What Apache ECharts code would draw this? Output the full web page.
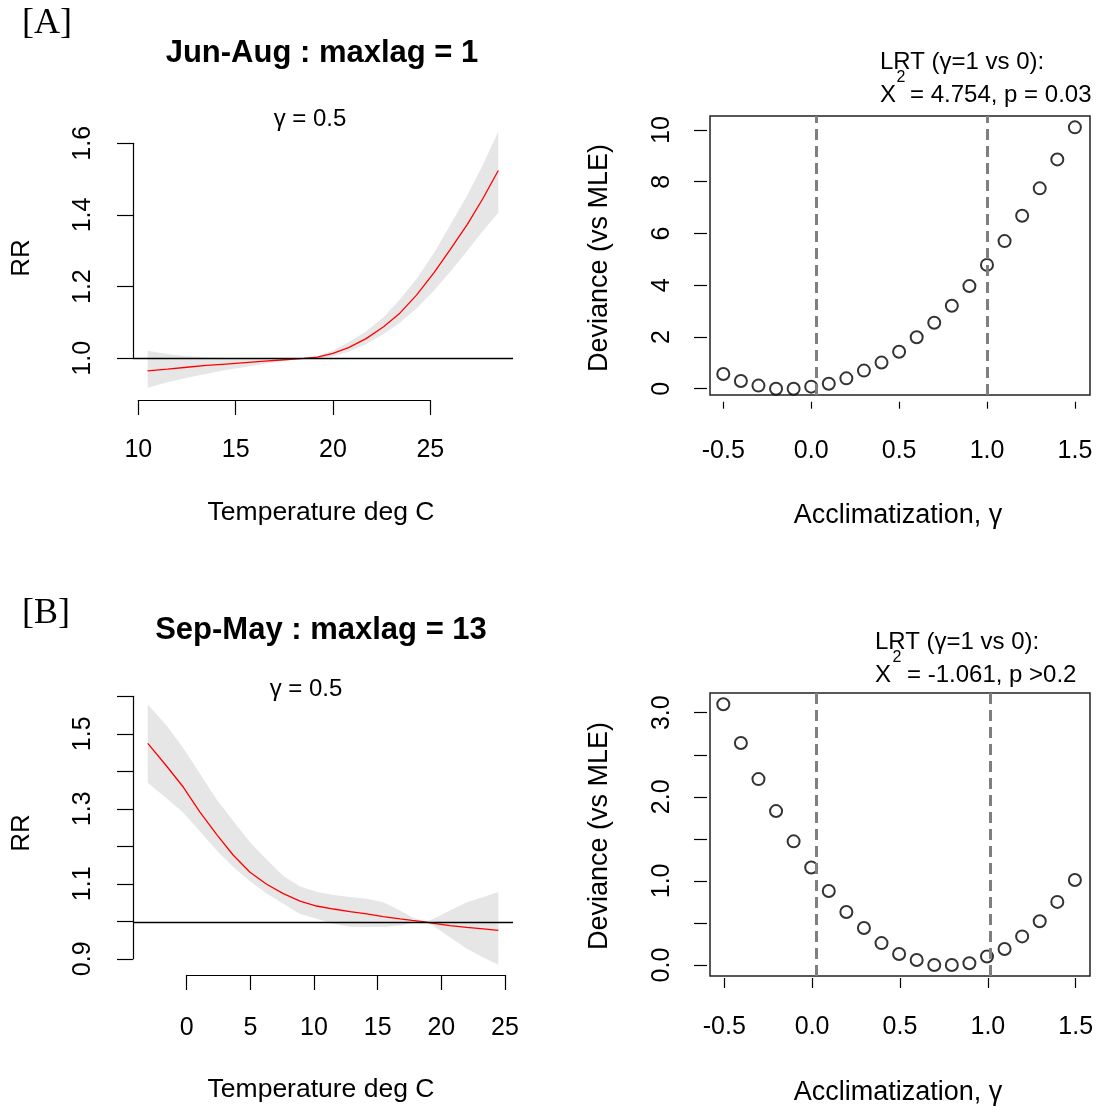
<!DOCTYPE html>
<html>
<head>
<meta charset="utf-8">
<script src="https://cdn.jsdelivr.net/npm/echarts@6/dist/echarts.min.js"></script>
<style>
  html, body { margin: 0; padding: 0; background: #fff; }
  #chart { width: 1096px; height: 1108px; }
</style>
</head>
<body>
<div id="chart"></div>
<script>
// ---- data ----
// [A] Jun-Aug : temperature -> RR curve and its confidence band
var tempA = [10.48, 11.5, 12.5, 13.5, 14.5, 15.5, 16.5, 17.5, 18.5, 19.2, 20.0, 20.8, 21.7, 22.6, 23.4, 24.3, 25.2, 26.0, 26.9, 27.7, 28.49];
var rrA   = [0.965, 0.970, 0.975, 0.980, 0.984, 0.988, 0.992, 0.996, 1.000, 1.003, 1.014, 1.030, 1.055, 1.088, 1.124, 1.177, 1.240, 1.302, 1.374, 1.446, 1.524];
var loA   = [0.918, 0.933, 0.946, 0.957, 0.967, 0.976, 0.985, 0.993, 1.000, 1.000, 1.006, 1.018, 1.040, 1.068, 1.098, 1.140, 1.190, 1.240, 1.300, 1.355, 1.406];
var hiA   = [1.021, 1.012, 1.006, 1.003, 1.001, 1.000, 1.000, 1.000, 1.000, 1.006, 1.022, 1.045, 1.075, 1.115, 1.162, 1.222, 1.295, 1.370, 1.455, 1.540, 1.633];

// [B] Sep-May
var tempB = [-3.06, -1.57, -0.26, 1.04, 2.36, 3.66, 4.97, 6.28, 7.59, 8.9, 10.2, 11.52, 12.83, 14.14, 15.44, 16.76, 17.7, 18.7, 19.4, 20.68, 22.0, 23.3, 24.48];
var rrB   = [1.475, 1.414, 1.358, 1.292, 1.232, 1.177, 1.132, 1.100, 1.075, 1.055, 1.042, 1.034, 1.027, 1.021, 1.014, 1.008, 1.004, 1.000, 0.996, 0.990, 0.985, 0.981, 0.977];
var loB   = [1.370, 1.328, 1.290, 1.240, 1.190, 1.146, 1.108, 1.075, 1.048, 1.021, 1.008, 0.995, 0.987, 0.986, 0.986, 0.990, 0.996, 1.000, 0.988, 0.959, 0.928, 0.905, 0.886];
var hiB   = [1.578, 1.522, 1.462, 1.394, 1.325, 1.268, 1.212, 1.166, 1.122, 1.094, 1.080, 1.071, 1.066, 1.061, 1.052, 1.030, 1.012, 1.000, 1.008, 1.030, 1.052, 1.066, 1.079];

// deviance profiles over acclimatization gamma
var gammaVals = [-0.5, -0.4, -0.3, -0.2, -0.1, 0.0, 0.1, 0.2, 0.3, 0.4, 0.5, 0.6, 0.7, 0.8, 0.9, 1.0, 1.1, 1.2, 1.3, 1.4, 1.5];
var devA = [0.57, 0.30, 0.12, 0.00, 0.00, 0.08, 0.19, 0.40, 0.70, 1.01, 1.43, 1.99, 2.55, 3.21, 3.97, 4.79, 5.71, 6.69, 7.75, 8.87, 10.11];
var devB = [3.10, 2.64, 2.21, 1.83, 1.47, 1.16, 0.88, 0.63, 0.44, 0.26, 0.13, 0.06, 0.00, 0.00, 0.02, 0.10, 0.19, 0.34, 0.52, 0.75, 1.01];

// dashed reference lines and the RR = 1 line
var refGammaA = [0.025, 1.0];
var refGammaB = [0.025, 1.02];
var refRR = 1;

// tick labels
var tempTicksA = [10, 15, 20, 25];
var tempTicksB = [0, 5, 10, 15, 20, 25];
var rrTicksA = [1.0, 1.2, 1.4, 1.6];
var rrTicksB = [0.9, 1.0, 1.1, 1.2, 1.3, 1.4, 1.5, 1.6];
var rrLabelsB = [0.9, 1.1, 1.3, 1.5];
var gammaTicks = [-0.5, 0.0, 0.5, 1.0, 1.5];
var devTicksA = [0, 2, 4, 6, 8, 10];
var devTicksB = [0.0, 0.5, 1.0, 1.5, 2.0, 2.5, 3.0];
var devLabelsB = [0.0, 1.0, 2.0, 3.0];

function pairs(xs, ys) {
  return xs.map(function (x, i) { return [x, ys[i]]; });
}
function inList(list, v) {
  return list.some(function (t) { return Math.abs(t - v) < 1e-6; });
}

var FONT = '"Liberation Sans", Arial, sans-serif';
var myChart = echarts.init(document.getElementById('chart'));

// 12 grids: data / y-axis / x-axis for each of the four panels
var grids = [
  { left: 133, top: 121, width: 380, height: 277 },    // 0 TL data
  { left: 133, top: 143.3, width: 100, height: 215 },  // 1 TL y axis
  { left: 138.3, top: 300, width: 292, height: 100 },  // 2 TL x axis
  { left: 710, top: 116, width: 380, height: 279, show: true, borderColor: '#222', borderWidth: 1.5, backgroundColor: 'transparent' }, // 3 TR data
  { left: 707, top: 130, width: 100, height: 258.7 },  // 4 TR y axis
  { left: 723.3, top: 301.7, width: 351.7, height: 100 }, // 5 TR x axis
  { left: 133, top: 693.7, width: 380, height: 281.3 }, // 6 BL data
  { left: 133, top: 696.3, width: 100, height: 262.5 }, // 7 BL y axis
  { left: 186.7, top: 875, width: 318.3, height: 100 }, // 8 BL x axis
  { left: 710, top: 693, width: 380, height: 283, show: true, borderColor: '#222', borderWidth: 1.5, backgroundColor: 'transparent' }, // 9 BR data
  { left: 707, top: 712.7, width: 100, height: 252.3 }, // 10 BR y axis
  { left: 724.3, top: 878, width: 351.4, height: 100 }  // 11 BR x axis
];
grids.forEach(function (g) { g.outerBoundsMode = 'none'; g.containLabel = false; });

function hidden(i, min, max) {
  return { gridIndex: i, type: 'value', show: false, min: min, max: max, splitLine: { show: false } };
}
function xAxisVis(i, ticks, opt) {
  return {
    gridIndex: i, type: 'value', position: 'bottom',
    min: ticks[0], max: ticks[ticks.length - 1], interval: ticks[1] - ticks[0],
    axisLine: { show: opt.line, lineStyle: { color: '#000', width: 1.2 } },
    axisTick: { show: true, length: opt.tick, lineStyle: { color: '#000', width: 1.2 } },
    axisLabel: { fontSize: 25, fontFamily: FONT, color: '#000', margin: opt.margin, formatter: opt.fmt },
    splitLine: { show: false }
  };
}
function yAxisVis(i, ticks, opt) {
  return {
    gridIndex: i, type: 'value', position: 'left',
    min: ticks[0], max: ticks[ticks.length - 1], interval: ticks[1] - ticks[0],
    axisLine: { show: opt.line, lineStyle: { color: '#000', width: 1.2 } },
    axisTick: { show: true, length: opt.tick, lineStyle: { color: '#000', width: 1.2 } },
    axisLabel: { fontSize: 25, fontFamily: FONT, color: '#000', rotate: 90, margin: opt.margin, formatter: opt.fmt },
    splitLine: { show: false }
  };
}
var fmt1 = function (v) { return (+v).toFixed(1); };

var xAxes = [
  hidden(0, 9.73, 29.245),
  hidden(1, 0, 1),
  xAxisVis(2, tempTicksA, { line: true, tick: 15, margin: 38 }),
  hidden(3, -0.5757, 1.586),
  hidden(4, 0, 1),
  xAxisVis(5, gammaTicks, { line: false, tick: 7, margin: 37, fmt: fmt1 }),
  hidden(6, -4.22, 25.63),
  hidden(7, 0, 1),
  xAxisVis(8, tempTicksB, { line: true, tick: 15, margin: 41 }),
  hidden(9, -0.5757, 1.586),
  hidden(10, 0, 1),
  xAxisVis(11, gammaTicks, { line: false, tick: 10, margin: 37, fmt: fmt1 })
];
var yAxes = [
  hidden(0, 0.8892, 1.6623),
  yAxisVis(1, rrTicksA, { line: true, tick: 16, margin: 37, fmt: fmt1 }),
  hidden(2, 0, 1),
  hidden(3, -0.244, 10.55),
  yAxisVis(4, devTicksA, { line: false, tick: 13, margin: 32 }),
  hidden(5, 0, 1),
  hidden(6, 0.8584, 1.607),
  yAxisVis(7, rrTicksB, { line: true, tick: 16, margin: 37, fmt: function (v) { return inList(rrLabelsB, v) ? (+v).toFixed(1) : ''; } }),
  hidden(8, 0, 1),
  hidden(9, -0.131, 3.234),
  yAxisVis(10, devTicksB, { line: false, tick: 13, margin: 32, fmt: function (v) { return inList(devLabelsB, v) ? (+v).toFixed(1) : ''; } }),
  hidden(11, 0, 1)
];

// confidence band: one polygon, upper edge forward then lower edge back
function bandSeries(idx, xs, lo, hi) {
  return {
    type: 'custom', xAxisIndex: idx, yAxisIndex: idx, silent: true, z: 1,
    data: pairs(xs, hi),
    renderItem: function (params, api) {
      if (params.dataIndex !== 0) return null;
      var pts = [];
      for (var i = 0; i < xs.length; i++) pts.push(api.coord([xs[i], hi[i]]));
      for (var j = xs.length - 1; j >= 0; j--) pts.push(api.coord([xs[j], lo[j]]));
      return { type: 'polygon', shape: { points: pts }, style: { fill: '#e6e6e6', stroke: null } };
    }
  };
}
function curveSeries(idx, xs, ys) {
  return { type: 'line', xAxisIndex: idx, yAxisIndex: idx, data: pairs(xs, ys), symbol: 'none', smooth: false,
    lineStyle: { color: '#ff0000', width: 1.3 }, z: 3,
    markLine: { silent: true, symbol: 'none', label: { show: false }, animation: false,
      lineStyle: { color: '#000', type: 'solid', width: 1.3 }, data: [{ yAxis: refRR }] } };
}
function devSeries(idx, ys, refs) {
  return { type: 'scatter', xAxisIndex: idx, yAxisIndex: idx, data: pairs(gammaVals, ys),
    symbol: 'emptyCircle', symbolSize: 12, itemStyle: { color: '#000', borderWidth: 1.3 }, z: 3,
    markLine: { silent: true, symbol: 'none', label: { show: false }, animation: false,
      lineStyle: { color: '#7f7f7f', type: [11, 6], width: 3 },
      data: refs.map(function (v) { return { xAxis: v }; }) } };
}

var series = [
  bandSeries(0, tempA, loA, hiA),
  curveSeries(0, tempA, rrA),
  devSeries(3, devA, refGammaA),
  bandSeries(6, tempB, loB, hiB),
  curveSeries(6, tempB, rrB),
  devSeries(9, devB, refGammaB)
];

function txt(x, y, text, size, extra) {
  var st = { text: text, fontSize: size, fontFamily: FONT, fill: '#000',
    align: 'center', verticalAlign: 'middle', textAlign: 'center', textVerticalAlign: 'middle' };
  var el = { type: 'text', x: x, y: y, style: st, silent: true, z: 10 };
  if (extra) {
    if (extra.rotation) el.rotation = extra.rotation;
    if (extra.bold) st.fontWeight = 'bold';
    if (extra.family) st.fontFamily = extra.family;
    if (extra.left) { st.align = 'left'; st.textAlign = 'left'; }
  }
  return el;
}
var ROT = Math.PI / 2;
var SERIF = '"Liberation Serif", "Times New Roman", serif';

var graphics = [
  txt(22, 24, '[A]', 36, { family: SERIF, left: true }),
  txt(22, 614, '[B]', 36, { family: SERIF, left: true }),
  txt(322, 53, 'Jun-Aug : maxlag = 1', 31, { bold: true }),
  txt(321, 630, 'Sep-May : maxlag = 13', 31, { bold: true }),
  txt(310, 119, 'γ = 0.5', 24),
  txt(306, 689, 'γ = 0.5', 24),
  txt(22, 258, 'RR', 26, { rotation: ROT }),
  txt(22, 833, 'RR', 26, { rotation: ROT }),
  txt(321, 513, 'Temperature deg C', 26.5),
  txt(321, 1090, 'Temperature deg C', 26.5),
  txt(600, 258, 'Deviance (vs MLE)', 27, { rotation: ROT }),
  txt(600, 836, 'Deviance (vs MLE)', 27, { rotation: ROT }),
  txt(898, 516, 'Acclimatization, γ', 27),
  txt(898, 1093, 'Acclimatization, γ', 27),
  // LRT annotations
  txt(880, 62, 'LRT (γ=1 vs 0):', 24, { left: true }),
  txt(880, 95, 'X', 24, { left: true }),
  txt(901, 78, '2', 16),
  txt(910, 95, '= 4.754, p = 0.03', 24, { left: true }),
  txt(875, 642, 'LRT (γ=1 vs 0):', 24, { left: true }),
  txt(875, 675, 'X', 24, { left: true }),
  txt(897, 658, '2', 16),
  txt(907, 675, '= -1.061, p >0.2', 24, { left: true })
];

var option = {
  animation: false,
  backgroundColor: '#fff',
  grid: grids,
  xAxis: xAxes,
  yAxis: yAxes,
  series: series,
  graphic: { elements: graphics }
};
myChart.setOption(option);
</script>
</body>
</html>
